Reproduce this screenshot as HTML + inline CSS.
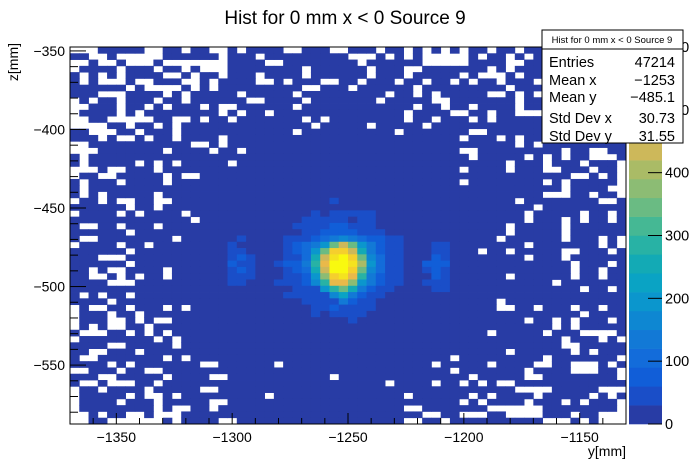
<!DOCTYPE html>
<html><head><meta charset="utf-8"><style>
html,body{margin:0;padding:0;background:#fff;}
svg{display:block;font-family:"Liberation Sans",sans-serif;}
</style></head><body>
<svg id="chart" width="696" height="472" viewBox="0 0 696 472">
<text x="345" y="24" font-size="19" text-anchor="middle">Hist for 0 mm x &lt; 0 Source 9</text>
<g id="cells"></g>
<g id="axes"></g>
<g id="cbar"></g>
<text x="626" y="456" font-size="14" text-anchor="end">y[mm]</text>
<text transform="translate(18,43) rotate(-90)" font-size="14" text-anchor="end">z[mm]</text>
<g>
<rect x="542" y="30" width="141" height="113" fill="#fff" stroke="#000" stroke-width="1"/>
<line x1="542" y1="49" x2="683" y2="49" stroke="#000"/>
<text x="612" y="43" font-size="9.5" text-anchor="middle">Hist for 0 mm x &lt; 0 Source 9</text>
<text x="549" y="67" font-size="14.5">Entries</text><text x="675" y="67" font-size="14.5" text-anchor="end">47214</text>
<text x="549" y="85" font-size="14.5">Mean x</text><text x="675" y="85" font-size="14.5" text-anchor="end">−1253</text>
<text x="549" y="102" font-size="14.5">Mean y</text><text x="675" y="102" font-size="14.5" text-anchor="end">−485.1</text>
<text x="549" y="123" font-size="14.5">Std Dev x</text><text x="675" y="123" font-size="14.5" text-anchor="end">30.73</text>
<text x="549" y="141" font-size="14.5">Std Dev y</text><text x="675" y="141" font-size="14.5" text-anchor="end">31.55</text>
</g>
</svg>
<script>
// ---- data ----
const xBinStart = -1370, binWidthX = 4, nBinsX = 60;
const yBinTop = -347.5, binWidthY = 4, nBinsY = 60;
const backgroundCount = 8;
// empty bins per row (row index from top)
const emptyCells = [
[0,1,2,8,9,12,15,16,18,23,24,28,29,33,36,38,40,42,45,48],
[2,3,5,6,7,8,9,16,20,30,31,32,34,36,38,39,40,41,42,44,47,49],
[0,1,3,4,6,7,8,10,11,12,13,14,15,16,21,22,31,38,39,40,41,42,47,48],
[0,5,9,12,14,15,16,25,32,36,37,45,47],
[1,3,5,10,11,13,16,20,25,32,36,42,44,45,46,48],
[1,3,4,5,7,8,12,13,15,20,21,23,27,28,31,35,38,41,43,46,50],
[6,8,9,10,11,13,15,25,26,30,37,47],
[3,4,5,10,12,18,24,34,37,39,45,46,48,50],
[0,2,5,9,12,19,20,25,33,39,40,48],
[0,1,5,8,10,14,16,17,24,37,40,43,48],
[0,5,7,16,18,21,36,41,42,45,48,49,50],
[0,1,4,5,6,7,8,11,12,14,17,25,27,36,39,43,45],
[0,1,2,3,6,9,11,26,32,38],
[2,3,4,7,11,24,35,43,44],
[3,5,6,8,11,16,42,46,48],
[0,1,13,14,16,48,50],
[0,1,2,10,15,18,42,43,53,56,57],
[1,43,49,51,53,56,57,58],
[1,7,9,11,17,47,51,55,59],
[0,1,2,4,5,9,42,47,51,52,56,59],
[0,3,4,10,12,13,54,55,57,59],
[1,5,10,42,51,53,59],
[1,53,58,59],
[1,3,9,51,52,53,56,59],
[0,3,5,6,9,10,48,57,58],
[6,9,50],
[0,5,7,12,49,55,58],
[13,49,53,55,58],
[1,2,5,9,47,53],
[6,47,53],
[1,2,11,46,53,57,59],
[0,5,8,49,57,59],
[6,44,47,53,54,58],
[3,4,5,49,53],
[6,54,58],
[2,4,5,10,54,57],
[2,3,5,7,10,47,54,57],
[4,5,6,52],
[55,58],
[1,3,6],
[4,46],
[0,2,3,6,10,12,46,47,50,54,57],
[0,4,7,55],
[0,4,5,7,9,10,49,52,54,58],
[0,2,4,5,8,52,54],
[1,2,3,6,8,10,45,51,55,56,57,58],
[0,9,11,53,57,59],
[4,5,11,53,54],
[2,3,7,47,54,56],
[1,2,10,12,41,51,59],
[4,6,14,15,22,39,45,50,51,54,55,56,58],
[0,1,5,8,9,41,49,54,55,56,59],
[3,4,10,15,16,28,43,49,50,59],
[1,2,4,5,6,9,34,39,42,44,46,47],
[0,3,8,14,15,48,49,50,51,57,58,59],
[0,6,8,9,11,21,36,43,45,50,56,58],
[0,5,9,15,16,42,44,49,53,55,59],
[0,9,11,12,15,36,37,45,46,47,48,49,50,59],
[0,1,3,6,7,9,10,11,38,39,42,43,44,47,48,49,50,54,57,58,59],
[0,1,4,5,6,7,8,9,11,16,17,36,37,40,51,52,53,55,57,58,59]
];
// peak region: [row, startCol, counts...]
const peakRows = [
[24,28,[40]],
[26,26,[40,8,40,40,40,40,40]],
[27,25,[40,40,40,40,40,8,40,40]],
[28,24,[40,40,40,40,70,70,40,40,40]],
[29,25,[40,40,70,70,70,70,40,40,40]],
[30,18,[40]],
[30,23,[40,40,40,70,100,130,160,130,100,70,70,40,40]],
[31,17,[40]],
[31,23,[40,70,100,130,190,345,435,345,190,130,70,40,40]],
[31,39,[40,40]],
[32,17,[40,40]],
[32,23,[40,70,100,190,345,525,525,435,255,130,70,40,40]],
[32,39,[40,40]],
[33,17,[40,70,40]],
[33,23,[40,40,100,255,435,555,585,525,345,160,100,40,40]],
[33,39,[70,40]],
[34,17,[70,40,40]],
[34,22,[40,70,70,130,285,465,585,585,555,405,190,100,40,40]],
[34,38,[70,70,70]],
[35,17,[40,70,40]],
[35,23,[40,70,100,255,435,585,585,525,345,160,100,40,40]],
[35,38,[40,70,40]],
[36,17,[40,40,40]],
[36,23,[40,40,70,190,375,525,555,465,285,130,70,40,40]],
[36,39,[70,40]],
[37,17,[40,40]],
[37,22,[40,40,40,70,160,285,465,465,375,190,130,70,40,40]],
[37,38,[40,40,40]],
[38,24,[40,40,40,190,285,345,255,130,70,40,40]],
[38,39,[40,40]],
[39,23,[40,40,40,40,40,160,220,130,70,40,40]],
[40,25,[40,40,40,40,130,70,40,40]],
[41,26,[40,40,70,40,40,40,40]],
[42,26,[40]],
[42,28,[40,40,40,40]],
[43,30,[40]]
];
const xTickValues = [-1350,-1300,-1250,-1200,-1150];
const xTickLabels = ["−1350","−1300","−1250","−1200","−1150"];
const yTickValues = [-350,-400,-450,-500,-550];
const yTickLabels = ["−350","−400","−450","−500","−550"];
const zTickValues = [0,100,200,300,400,500,600];
const zTickLabels = ["0","100","200","300","400","500","600"];
const palette = ["#283ca5","#1a4ec8","#115ed8","#136cda","#1279d6","#0e87d2","#0b96cd","#0aa3c4","#13aab5","#28b2a5","#45b894","#6abb83","#8cbc74","#aabb66","#cdb85a","#e9b94a","#fbc03a","#f5cf2d","#f4e31f","#f9f90f"];

// ---- layout ----
const PL=70, PR=626, PT=47, PB=424;
const xMin=-1370, xMax=-1130, yMin=-587.5, yMax=-347.5, zMax=600;
const CBL=629, CBR=662;
function xs(v){return PL+(v-xMin)/(xMax-xMin)*(PR-PL);}
function ys(v){return PT+(yMax-v)/(yMax-yMin)*(PB-PT);}
function zs(v){return PB-v/zMax*(PB-PT);}
function colorFor(c){return palette[Math.min(palette.length-1,Math.floor(c/(zMax/palette.length)))];}
const NS="http://www.w3.org/2000/svg";
function mk(tag,attrs,parent){const e=document.createElementNS(NS,tag);for(const k in attrs)e.setAttribute(k,attrs[k]);parent.appendChild(e);return e;}

// build counts grid
const counts=[];
for(let r=0;r<nBinsY;r++){counts.push(new Array(nBinsX).fill(backgroundCount));}
emptyCells.forEach((cols,r)=>{cols.forEach(c=>{counts[r][c]=0;});});
peakRows.forEach(p=>{p[2].forEach((v,i)=>{counts[p[0]][p[1]+i]=v;});});

const cells=document.getElementById('cells');
for(let r=0;r<nBinsY;r++){for(let c=0;c<nBinsX;c++){
  const v=counts[r][c]; if(v<=0) continue;
  const x0=xs(xBinStart+c*binWidthX), x1=xs(xBinStart+(c+1)*binWidthX);
  const y0=ys(yBinTop-r*binWidthY), y1=ys(yBinTop-(r+1)*binWidthY);
  const rc=mk('rect',{x:x0.toFixed(2),y:y0.toFixed(2),width:(x1-x0+0.4).toFixed(2),height:(y1-y0+0.4).toFixed(2),fill:colorFor(v)},cells);
  
  
}}

// axes
const ax=document.getElementById('axes');
const fr=mk('rect',{x:PL,y:PT,width:PR-PL,height:PB-PT,fill:'none',stroke:'#000','stroke-width':1},ax);


for(let v=-1370;v<=-1130;v+=10){
  const major=(v%50===0); const x=xs(v);
  const t=mk('line',{x1:x,y1:PB,x2:x,y2:PB-(major?11:6),stroke:'#000'},ax);
  
  
}
xTickValues.forEach((v,i)=>{
  const t=mk('text',{x:xs(v),y:442,'font-size':14,'text-anchor':'middle'},ax);t.textContent=xTickLabels[i];
  
  
});
for(let v=-580;v<=-350;v+=10){
  const major=(v%50===0); const y=ys(v);
  const t=mk('line',{x1:PL,y1:y,x2:PL+(major?16:8),y2:y,stroke:'#000'},ax);
  
  
}
yTickValues.forEach((v,i)=>{
  const t=mk('text',{x:65,y:ys(v)+5,'font-size':14,'text-anchor':'end'},ax);t.textContent=yTickLabels[i];
  
  
});

// color bar
const cb=document.getElementById('cbar');
palette.forEach((col,i)=>{
  const lo=i*zMax/palette.length, hi=(i+1)*zMax/palette.length;
  const r=mk('rect',{x:CBL,y:zs(hi),width:CBR-CBL,height:zs(lo)-zs(hi)+0.3,fill:col},cb);
  
  
});
zTickValues.forEach((v,i)=>{
  const y=zs(v);
  const l=mk('line',{x1:CBR-14,y1:y,x2:CBR,y2:y,stroke:'#000'},cb);
  
  
  const t=mk('text',{x:665,y:y+5,'font-size':14.5},cb);t.textContent=zTickLabels[i];
  
  
});
</script>
</body></html>
